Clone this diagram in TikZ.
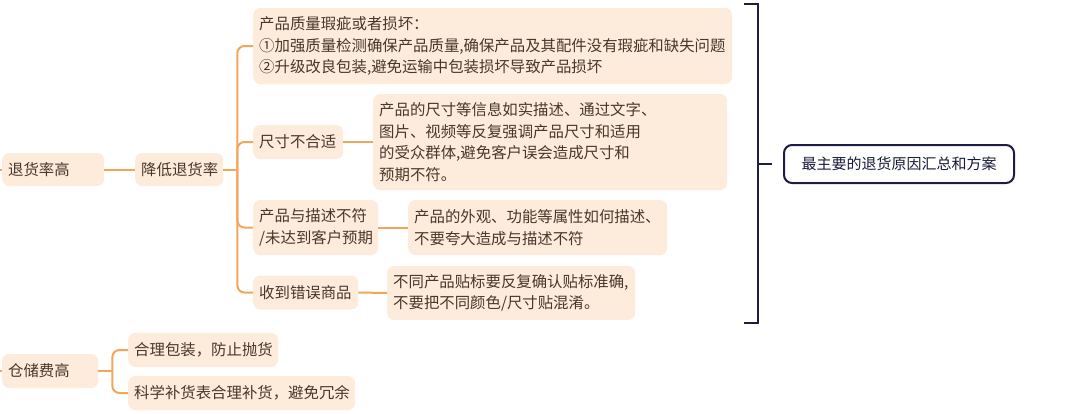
\documentclass[tikz,border=0pt]{standalone}
\usepackage{fontspec}
\setmainfont{Noto Sans CJK SC}
\definecolor{peach}{HTML}{FDEBDB}
\definecolor{brown}{HTML}{4A372B}
\definecolor{lineor}{HTML}{F2A65A}
\definecolor{navy}{HTML}{1C1C45}
\begin{document}
\begin{tikzpicture}[x=1pt,y=-1pt,
    box/.style={fill=peach,rounded corners=7pt,inner xsep=6pt,inner ysep=0pt,
        align=left,anchor=west,text=brown,font=\fontsize{15.4}{21.5}\selectfont},
    link/.style={draw=lineor,line width=2pt,rounded corners=7pt},
    brk/.style={draw=navy,line width=2.5pt}]
    \useasboundingbox (0,0) rectangle (1080,413);
    % left branch
    \node[box,text width=90pt,minimum height=33pt] (th) at (2,169.5) {退货率高};
    \node[box,text width=76pt,minimum height=33pt] (jd) at (135,169.5) {降低退货率};
    \node[box,text width=467pt,minimum height=76pt] (zl) at (253,46)
        {产品质量瑕疵或者损坏：\\①加强质量检测确保产品质量,确保产品及其配件没有瑕疵和缺失问题\\②升级改良包装,避免运输中包装损坏导致产品损坏};
    \node[box,text width=78pt,minimum height=34pt] (cc) at (253,142) {尺寸不合适};
    \node[box,text width=342pt,minimum height=96pt] (ccd) at (373,142)
        {产品的尺寸等信息如实描述、通过文字、\\图片、视频等反复强调产品尺寸和适用\\的受众群体,避免客户误会造成尺寸和\\预期不符。};
    \node[box,text width=113pt,minimum height=55pt] (ms) at (253,227.5)
        {产品与描述不符\\/未达到客户预期};
    \node[box,text width=247pt,minimum height=55pt] (msd) at (408,227.5)
        {产品的外观、功能等属性如何描述、\\不要夸大造成与描述不符};
    \node[box,text width=93pt,minimum height=34pt] (cw) at (253,292.5) {收到错误商品};
    \node[box,text width=236pt,minimum height=54pt] (cwd) at (387,293)
        {不同产品贴标要反复确认贴标准确,\\不要把不同颜色/尺寸贴混淆。};
    % storage branch
    \node[box,text width=84pt,minimum height=34pt] (cf) at (2,371) {仓储费高};
    \node[box,text width=138pt,minimum height=34pt] (bz) at (128,350) {合理包装，防止抛货};
    \node[box,text width=215pt,minimum height=34pt] (bh) at (128,393) {科学补货表合理补货，避免冗余};
    % summary
    \node[draw=navy,line width=2pt,rounded corners=8pt,minimum width=230pt,minimum height=38pt,
        anchor=west,text=navy!85!black,font=\fontsize{15}{18}\selectfont] (sum) at (783,164)
        {最主要的退货原因汇总和方案};
    % connectors
    \coordinate (lt1) at (-6,169.5);
    \coordinate (lt2) at (-6,371);
    \draw[link] (lt1) -- (th.west);
    \draw[link] (lt2) -- (cf.west);
    \draw[link] (th.east) -- (jd.west);
    \coordinate (jx) at ([xshift=14pt]jd.east);
    \draw[link] (jd.east) -- (jx);
    \foreach \c in {zl,cc,ms,cw}
        \draw[link] (jx) |- (\c.west);
    \draw[link] (cc.east) -- (ccd.west);
    \draw[link] (ms.east) -- (msd.west);
    \draw[link] (cw.east) -- (cwd.west);
    \coordinate (jx2) at ([xshift=14pt]cf.east);
    \draw[link] (cf.east) -- (jx2);
    \foreach \c in {bz,bh}
        \draw[link] (jx2) |- (\c.west);
    % bracket
    \coordinate (bt) at (758,4);
    \coordinate (bb) at (758,323);
    \coordinate (bm) at (758,164);
    \draw[brk] ([xshift=-14pt]bt) -- (bt) -- (bb) -- ([xshift=-14pt]bb);
    \draw[brk] (bm) -- ++(14,0);
\end{tikzpicture}
\end{document}
